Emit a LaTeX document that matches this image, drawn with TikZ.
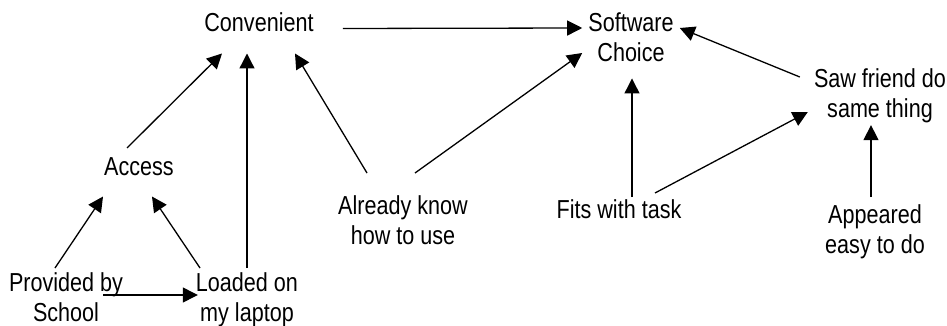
\documentclass[tikz,border=0pt]{standalone}
\usepackage{fontspec}
\setmainfont{Liberation Sans}[FakeStretch=0.83]
\usepackage{tikz}
\usetikzlibrary{calc, arrows.meta}
\tikzset{
x=1pt, y=-1pt, % work in picture units, y downwards
every node/.style={inner sep=0pt, align=center, anchor=north, font=\fontsize{26}{30}\selectfont}, % plain text, placed by its top
>={Triangle[length=15pt,width=15pt]}, % solid arrow heads
arr/.style={->, line width=1.3pt}, % every link between two factors
}

\begin{document}
\begin{tikzpicture}
                \useasboundingbox (0,0) rectangle (947,326);
                \node (conv) at (259,12) {Convenient};
                \node (soft) at (631,12) {Software\\Choice};
                \node (acc) at (139,157) {Access};
                \node (know) at (403,195) {Already know\\how to use};
                \node (fits) at (619,199) {Fits with task};
                \node (saw) at (880,68) {Saw friend do\\same thing};
                \node (app) at (875,204) {Appeared\\easy to do};
                \node (prov) at (66,272) {Provided by\\School};
                \node (load) at (247,272) {Loaded on\\my laptop};
                \draw[arr] ($(conv.south east)+(29,-3)$) -- ($(soft.north west)+(-6,16)$);
                \draw[arr] ($(acc.north)+(-12,-9)$) -- ($(conv.south)+(-37,22)$);
                \draw[arr] ($(load.north)+(0,-4)$) -- ($(conv.south)+(-12,22)$);
                \draw[arr] ($(know.north)+(-36,-22)$) -- ($(conv.south)+(36,22)$);
                \draw[arr] ($(know.north)+(12,-22)$) -- ($(soft.north west)+(-6,41)$);
                \draw[arr] ($(prov.north)+(-11,-4)$) -- ($(acc.south)+(-36,21)$);
                \draw[arr] ($(load.north)+(-47,-4)$) -- ($(acc.south)+(13,21)$);
                \draw[arr] ($(prov.north)+(37,23)$) -- ($(load.north west)+(2,23)$);
                \draw[arr] ($(fits.north)+(13,-2)$) -- ($(soft.south)+(1,17)$);
                \draw[arr] ($(fits.north)+(36,-6)$) -- ($(saw.north west)+(-6,44)$);
                \draw[arr] ($(saw.north west)+(-14,9)$) -- ($(soft.north east)+(6,16)$);
                \draw[arr] ($(app.north)+(-4,-7)$) -- ($(saw.south)+(-9,2.5)$);
\end{tikzpicture}
\end{document}
